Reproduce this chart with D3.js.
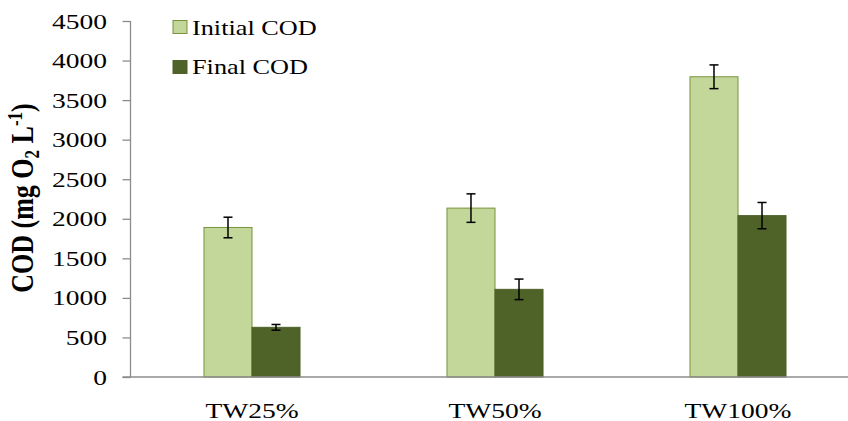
<!DOCTYPE html>
<html>
<head>
<meta charset="utf-8">
<script src="https://cdn.jsdelivr.net/npm/d3@7"></script>
<style>
  body { margin: 0; background: #fff; }
  text { font-family: "Liberation Serif", "Times New Roman", serif; fill: #000; }
</style>
</head>
<body>
<svg width="848" height="421"></svg>
<script>
// chart values
var categories = ['TW25%', 'TW50%', 'TW100%'];
var seriesNames = ['Initial COD', 'Final COD'];
var initialCOD = [1890, 2135, 3795];
var finalCOD = [628, 1108, 2040];
var initialErr = [130, 180, 150];
var finalErr = [36, 130, 166];
var yTicks = [0, 500, 1000, 1500, 2000, 2500, 3000, 3500, 4000, 4500];

var colors = {
    'Initial COD': {fill: '#C4D79B', stroke: '#77933C'},
    'Final COD': {fill: '#4F6228', stroke: '#4F6228'}
};

var svg = d3.select('svg');

// the original picture is stretched sideways, so text gets a small x scale
var stretch = 1.25;

var plot = {l: 130.5, r: 859.5, t: 21, b: 377};

var x0 = d3.scaleBand()
    .domain(categories)
    .range([plot.l, plot.r]);

var x1 = d3.scaleBand()
    .domain(seriesNames)
    .range([0, x0.bandwidth()])
    .paddingOuter(1.53);

var y = d3.scaleLinear()
    .domain([0, 4500])
    .range([plot.b, plot.t]);

// build rows for the bars
var rows = [];
categories.forEach(function(c, i) {
    rows.push({cat: c, series: 'Initial COD', value: initialCOD[i], err: initialErr[i]});
    rows.push({cat: c, series: 'Final COD', value: finalCOD[i], err: finalErr[i]});
});

// bars
svg.append('g').selectAll('rect')
    .data(rows)
    .enter()
    .append('rect')
    .attr('x', function(d) {return x0(d.cat) + x1(d.series);})
    .attr('y', function(d) {return y(d.value);})
    .attr('width', x1.bandwidth())
    .attr('height', function(d) {return y(0) - y(d.value);})
    .style('fill', function(d) {return colors[d.series].fill;})
    .style('stroke', function(d) {return colors[d.series].stroke;})
    .style('stroke-width', 1);

// error bars
var errG = svg.append('g')
    .style('stroke', '#000')
    .style('stroke-width', 1.5);

rows.forEach(function(d) {
    var cx = x0(d.cat) + x1(d.series) + x1.bandwidth() / 2;
    errG.append('line')
        .attr('x1', cx).attr('x2', cx)
        .attr('y1', y(d.value + d.err)).attr('y2', y(d.value - d.err));
    errG.append('line')
        .attr('x1', cx - 4.5).attr('x2', cx + 4.5)
        .attr('y1', y(d.value + d.err)).attr('y2', y(d.value + d.err));
    errG.append('line')
        .attr('x1', cx - 4.5).attr('x2', cx + 4.5)
        .attr('y1', y(d.value - d.err)).attr('y2', y(d.value - d.err));
});

// y axis (ticks from d3, labels drawn separately so they can be stretched)
var yAxis = d3.axisLeft(y).tickValues(yTicks).tickSize(8).tickFormat('');
var yG = svg.append('g')
    .attr('transform', 'translate(' + plot.l + ',0)')
    .call(yAxis);
yG.select('.domain').attr('d', 'M0,' + plot.t + 'V' + plot.b).style('stroke', '#8c8c8c').style('stroke-width', 1.3);
yG.selectAll('.tick line').style('stroke', '#8c8c8c').style('stroke-width', 1.3);

svg.append('g').selectAll('text')
    .data(yTicks)
    .enter()
    .append('text')
    .attr('transform', function(d) {
        return 'translate(107,' + (y(d) + 7.5) + ') scale(' + stretch + ',1)';
    })
    .attr('text-anchor', 'end')
    .style('font-size', '22px')
    .text(function(d) {return d;});

// x axis line
svg.append('line')
    .attr('x1', plot.l - 8).attr('x2', 848)
    .attr('y1', plot.b).attr('y2', plot.b)
    .style('stroke', '#8c8c8c')
    .style('stroke-width', 1.6);

// category labels
svg.append('g').selectAll('text')
    .data(categories)
    .enter()
    .append('text')
    .attr('transform', function(d) {
        return 'translate(' + (x0(d) + x0.bandwidth() / 2) + ',418) scale(' + stretch + ',1)';
    })
    .attr('text-anchor', 'middle')
    .style('font-size', '22px')
    .text(function(d) {return d;});

// y title with sub and superscript
var yTitle = svg.append('text')
    .attr('transform', 'translate(33,198) scale(' + stretch + ',1) rotate(-90)')
    .attr('text-anchor', 'middle')
    .style('font-size', '26px')
    .style('font-weight', 'bold');
yTitle.append('tspan').text('COD (mg O');
yTitle.append('tspan').attr('dy', 5).style('font-size', '17px').text('2');
yTitle.append('tspan').attr('dy', -5).text(' L');
yTitle.append('tspan').attr('dy', -9).style('font-size', '17px').text('-1');
yTitle.append('tspan').attr('dy', 9).text(')');

// legend
var legend = svg.append('g').selectAll('g')
    .data(seriesNames)
    .enter()
    .append('g');

legend.append('rect')
    .attr('x', 173)
    .attr('y', function(d, i) {return 20.5 + i * 40;})
    .attr('width', 14)
    .attr('height', 13)
    .style('fill', function(d) {return colors[d].fill;})
    .style('stroke', function(d) {return colors[d].stroke;});

legend.append('text')
    .attr('transform', function(d, i) {
        return 'translate(192,' + (35 + i * 38.5) + ') scale(' + stretch + ',1)';
    })
    .style('font-size', '21px')
    .text(function(d) {return d;});
</script>
</body>
</html>
